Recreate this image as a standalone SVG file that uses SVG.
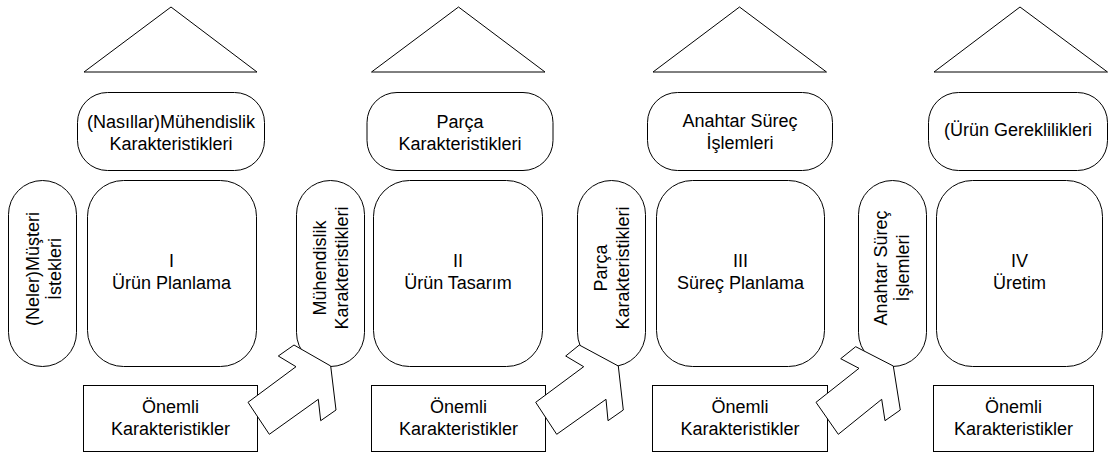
<svg xmlns="http://www.w3.org/2000/svg" width="1109" height="455" viewBox="0 0 1109 455">
  <style>
    .shape { fill: #ffffff; stroke: #000000; stroke-width: 1; }
    .lbl { font-family: "Liberation Sans", Arial, sans-serif; font-size: 18px; fill: #000000; text-anchor: middle; }
  </style>
  <rect x="0" y="0" width="1109" height="455" fill="#ffffff"/>

  <!-- Column I -->
  <g id="roof-1"><polygon class="shape" points="171,7 84,72 257,72"/></g>
  <g id="how-1">
    <rect class="shape" x="77.5" y="92.5" width="187" height="78" rx="30"/>
    <text class="lbl" x="171" y="128">(Nasıllar)Mühendislik</text>
    <text class="lbl" x="171" y="150">Karakteristikleri</text>
  </g>
  <g id="what-1">
    <rect class="shape" x="8.5" y="180.5" width="68" height="186" rx="34"/>
    <text class="lbl" transform="translate(38.5,269) rotate(-90)">(Neler)Müşteri</text>
    <text class="lbl" transform="translate(60.5,269) rotate(-90)">İstekleri</text>
  </g>
  <g id="matrix-1">
    <rect class="shape" x="87.5" y="180.5" width="169" height="186" rx="36"/>
    <text class="lbl" x="171.5" y="267">I</text>
    <text class="lbl" x="171.5" y="289">Ürün Planlama</text>
  </g>
  <g id="out-1">
    <rect class="shape" x="296.5" y="180.5" width="68" height="186" rx="34"/>
    <text class="lbl" transform="translate(326,268) rotate(-90)">Mühendislik</text>
    <text class="lbl" transform="translate(348,268) rotate(-90)">Karakteristikleri</text>
  </g>
  <g id="key-1">
    <rect class="shape" x="83.5" y="385.5" width="174" height="66"/>
    <text class="lbl" x="170.5" y="413">Önemli</text>
    <text class="lbl" x="170.5" y="435">Karakteristikler</text>
  </g>

  <!-- Column II -->
  <g id="roof-2"><polygon class="shape" points="458.5,7 371.5,72 545,72"/></g>
  <g id="how-2">
    <rect class="shape" x="367" y="92.5" width="186" height="78" rx="30"/>
    <text class="lbl" x="460" y="128">Parça</text>
    <text class="lbl" x="460" y="150">Karakteristikleri</text>
  </g>
  <g id="matrix-2">
    <rect class="shape" x="373.5" y="180.5" width="169" height="186" rx="36"/>
    <text class="lbl" x="458" y="267">II</text>
    <text class="lbl" x="458" y="289">Ürün Tasarım</text>
  </g>
  <g id="out-2">
    <rect class="shape" x="577.5" y="180.5" width="68" height="186" rx="34"/>
    <text class="lbl" transform="translate(607,268) rotate(-90)">Parça</text>
    <text class="lbl" transform="translate(629,268) rotate(-90)">Karakteristikleri</text>
  </g>
  <g id="key-2">
    <rect class="shape" x="371.5" y="385.5" width="174" height="66"/>
    <text class="lbl" x="458.5" y="413">Önemli</text>
    <text class="lbl" x="458.5" y="435">Karakteristikler</text>
  </g>

  <!-- Column III -->
  <g id="roof-3"><polygon class="shape" points="739.5,7 653,72 826.5,72"/></g>
  <g id="how-3">
    <rect class="shape" x="647.5" y="92.5" width="185" height="78" rx="30"/>
    <text class="lbl" x="740" y="127">Anahtar Süreç</text>
    <text class="lbl" x="740" y="149">İşlemleri</text>
  </g>
  <g id="matrix-3">
    <rect class="shape" x="656.5" y="180.5" width="168" height="186" rx="36"/>
    <text class="lbl" x="740.5" y="267">III</text>
    <text class="lbl" x="740.5" y="289">Süreç Planlama</text>
  </g>
  <g id="out-3">
    <rect class="shape" x="858.5" y="180.5" width="68" height="186" rx="34"/>
    <text class="lbl" transform="translate(887,268) rotate(-90)">Anahtar Süreç</text>
    <text class="lbl" transform="translate(909,268) rotate(-90)">İşlemleri</text>
  </g>
  <g id="key-3">
    <rect class="shape" x="652.5" y="385.5" width="175" height="66"/>
    <text class="lbl" x="740" y="413">Önemli</text>
    <text class="lbl" x="740" y="435">Karakteristikler</text>
  </g>

  <!-- Column IV -->
  <g id="roof-4"><polygon class="shape" points="1020,7 934,72 1107.5,72"/></g>
  <g id="how-4">
    <rect class="shape" x="928.5" y="92.5" width="179" height="78" rx="30"/>
    <text class="lbl" x="1018" y="136">(Ürün Gereklilikleri</text>
  </g>
  <g id="matrix-4">
    <rect class="shape" x="936.5" y="180.5" width="166" height="186" rx="36"/>
    <text class="lbl" x="1019.5" y="267">IV</text>
    <text class="lbl" x="1019.5" y="289">Üretim</text>
  </g>
  <g id="key-4">
    <rect class="shape" x="933.5" y="385.5" width="160" height="66"/>
    <text class="lbl" x="1013.5" y="413">Önemli</text>
    <text class="lbl" x="1013.5" y="435">Karakteristikler</text>
  </g>

  <!-- Block arrows carrying each phase's key characteristics into the next phase -->
  <g id="connectors">
    <polygon class="shape" points="248,402.3 269.3,434.3 318.3,399.3 320.7,420.7 336,410 330.7,366 294,345 278.3,356 296,366.7"/>
    <polygon class="shape" points="535.7,402.3 556.7,434.3 606,399.3 608,420.7 623.3,410 618.3,366 579.3,345 565.7,356 583.7,366.7"/>
    <polygon class="shape" points="816,402.3 838.3,434.3 881.7,399.3 885,420.7 900.3,410 893.3,366 855.7,346.7 840.7,358.7 859,368.3"/>
  </g>
</svg>
